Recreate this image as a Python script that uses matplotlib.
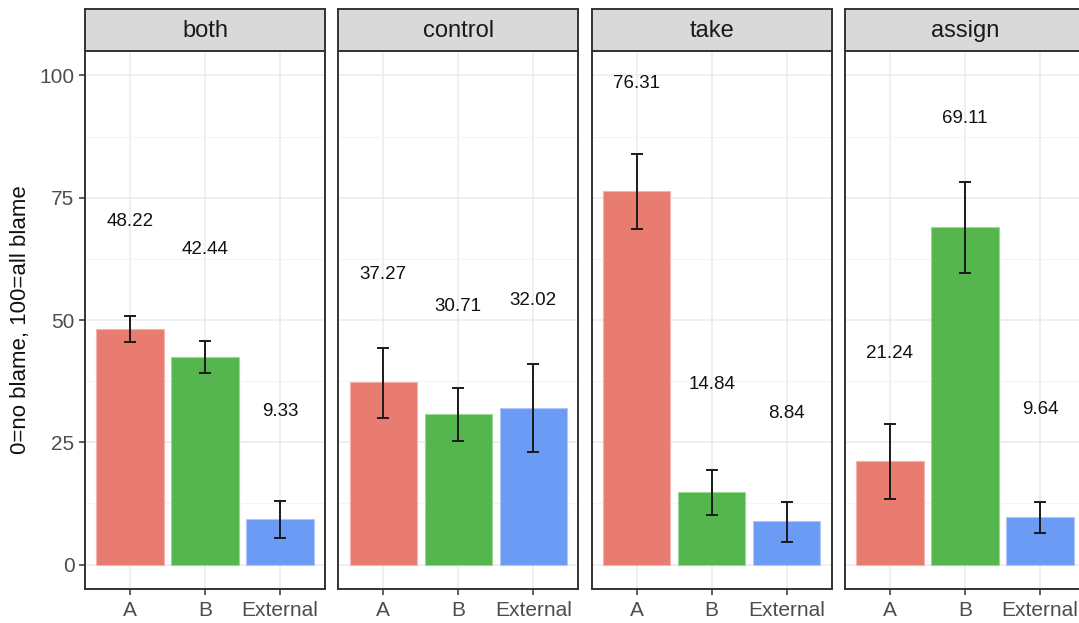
import matplotlib
matplotlib.use('Agg')
import matplotlib.pyplot as plt
import numpy as np

plt.rcParams['font.family'] = ['Liberation Sans', 'DejaVu Sans']

## Data
panels = ['both', 'control', 'take', 'assign']
cats = ['A', 'B', 'External']
means = [[48.22, 42.44, 9.33],
         [37.27, 30.71, 32.02],
         [76.31, 14.84, 8.84],
         [21.24, 69.11, 9.64]]
err_lo = [[45.4, 39.1, 5.4],
          [30.0, 25.2, 23.0],
          [68.7, 10.1, 4.6],
          [13.3, 59.6, 6.5]]
err_hi = [[50.8, 45.7, 13.0],
          [44.3, 36.1, 41.0],
          [83.9, 19.4, 12.8],
          [28.8, 78.2, 12.7]]
yticks = [0, 25, 50, 75, 100]

colors = ['#E87C71', '#54B64C', '#6C9BF6']
edges = ['#F6B3AC', '#9BD896', '#AFC8FA']
label_off = 22

W, H = 1079, 623
fig = plt.figure(figsize=(W/100, H/100), dpi=100)

left0, pw, step = 85, 240, 253.3
top, bottom, strip_h = 51, 589, 42

x = np.arange(1, len(cats) + 1)
for i, name in enumerate(panels):
    l = left0 + i*step
    ax = fig.add_axes([l/W, 1 - bottom/H, pw/W, (bottom - top)/H])
    ax.set_xlim(0.4, 3.6)
    ax.set_ylim(-5, 105)
    ax.set_yticks(yticks)
    ax.set_yticks([12.5, 37.5, 62.5, 87.5], minor=True)
    ax.set_xticks(x)
    ax.set_xticklabels(cats)
    ax.grid(True, which='major', color='#EBEBEB', lw=1.1, zorder=0)
    ax.grid(True, which='minor', axis='y', color='#F3F3F3', lw=0.8, zorder=0)
    ax.set_axisbelow(True)

    m = np.array(means[i])
    lo = np.array(err_lo[i])
    hi = np.array(err_hi[i])
    ax.bar(x, m, width=0.9, color=colors, edgecolor=edges, lw=0.8, zorder=2)
    ax.errorbar(x, m, yerr=[m - lo, hi - m], fmt='none', ecolor='#1A1A1A',
                elinewidth=1.4, capsize=4, capthick=1.4, zorder=3)
    for xi, v in zip(x, m):
        ax.text(xi, v + label_off, f'{v:.2f}', ha='center', va='center',
                fontsize=13.5, color='#111111', zorder=4)

    for s in ax.spines.values():
        s.set_color('#333333')
        s.set_linewidth(1.4)
    ax.tick_params(axis='both', which='major', length=4, width=1.1,
                   color='#333333', labelcolor='#4D4D4D', labelsize=15)
    ax.tick_params(which='minor', length=0)
    ax.tick_params(axis='x', pad=5)
    if i > 0:
        ax.tick_params(axis='y', left=False, labelleft=False)
    else:
        ax.set_ylabel('0=no blame, 100=all blame', fontsize=16,
                      color='#111111', labelpad=6)

    # strip
    sax = fig.add_axes([l/W, 1 - top/H, pw/W, strip_h/H])
    sax.set_facecolor('#D9D9D9')
    sax.set_xticks([])
    sax.set_yticks([])
    for s in sax.spines.values():
        s.set_color('#333333')
        s.set_linewidth(1.4)
    sax.text(0.5, 0.47, name, ha='center', va='center', fontsize=17,
             color='#1A1A1A', transform=sax.transAxes)

fig.savefig('out.png', dpi=100)
